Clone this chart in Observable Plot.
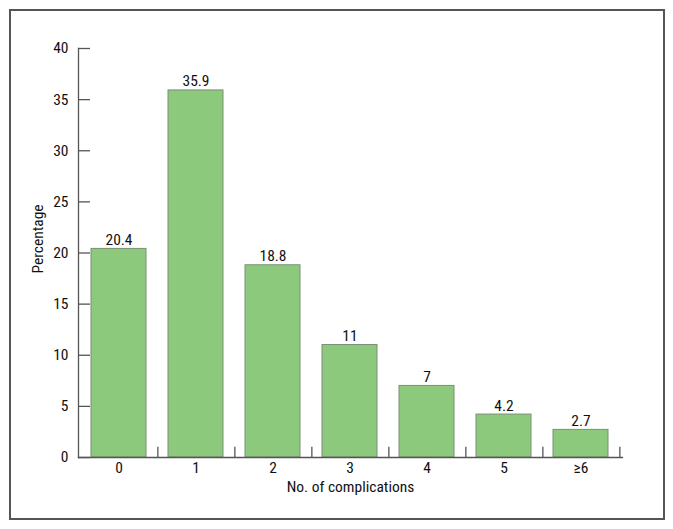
<!DOCTYPE html>
<html>
<head>
<meta charset="utf-8">
<script src="https://cdn.jsdelivr.net/npm/d3@7"></script>
<script src="https://cdn.jsdelivr.net/npm/@observablehq/plot@0.6"></script>
<style>
  html, body { margin: 0; padding: 0; background: #fff; }
  #wrap { position: relative; width: 673px; height: 529px; }
  #frame { position: absolute; left: 9px; top: 9px; width: 652px; height: 507px; border: 2px solid #555; pointer-events: none; }
  #wrap svg text { font-stretch: condensed; }
</style>
</head>
<body>
<div id="wrap"><div id="frame"></div></div>
<script>
const categories = ["0", "1", "2", "3", "4", "5", "≥6"];
const percentages = [20.4, 35.9, 18.8, 11, 7, 4.2, 2.7];
const valueLabels = ["20.4", "35.9", "18.8", "11", "7", "4.2", "2.7"];
const yTicks = [0, 5, 10, 15, 20, 25, 30, 35, 40];

const data = categories.map((c, i) => ({cat: c, value: percentages[i], label: valueLabels[i]}));

const W = 673, H = 529, mL = 78, mR = 51, mT = 48, mB = 72;
const half = (W - mL - mR) / categories.length / 2;
const font = "'Roboto Condensed', 'DejaVu Sans Condensed', 'Liberation Sans Narrow', Roboto, sans-serif";
const fs = 15.5;

const chart = Plot.plot({
  width: W,
  height: H,
  marginLeft: mL,
  marginRight: mR,
  marginTop: mT,
  marginBottom: mB,
  style: {fontFamily: font, fontSize: fs + "px", color: "#111", background: "transparent"},
  x: {domain: categories, paddingInner: 0.28, paddingOuter: 0.14, label: null},
  y: {domain: [0, 40], label: null},
  marks: [
    Plot.barY(data, {x: "cat", y: "value", fill: "#8cc97d", stroke: "#7a8f74", strokeWidth: 1}),
    Plot.text(data, {x: "cat", y: "value", text: "label", dy: -4, lineAnchor: "bottom", fontSize: fs, fill: "#111"}),
    Plot.frame({anchor: "left", stroke: "#555", strokeWidth: 1.3}),
    Plot.frame({anchor: "bottom", stroke: "#555", strokeWidth: 1.3}),
    Plot.axisY({ticks: yTicks, tickSize: 12, dx: 12, tickFormat: () => "", stroke: "#555", strokeWidth: 1.3, label: null}),
    Plot.axisY({ticks: yTicks, tickSize: 0, tickPadding: 10, fontSize: fs, label: null}),
    Plot.ruleX(categories, {x: d => d, dx: half, y1: 0, y2: 1, stroke: "#555", strokeWidth: 1.3}),
    Plot.axisX({tickSize: 0, tickPadding: 4, fontSize: fs, label: null}),
    Plot.text(["Percentage"], {frameAnchor: "left", textAnchor: "middle", dx: -40, dy: -14, rotate: -90, text: d => d, fontSize: fs, fill: "#111"}),
    Plot.text(["No. of complications"], {frameAnchor: "bottom", textAnchor: "middle", dy: 34, text: d => d, fontSize: fs, fill: "#111"})
  ]
});
chart.style.position = "absolute";
chart.style.left = "0";
chart.style.top = "0";
document.getElementById("wrap").appendChild(chart);
</script>
</body>
</html>
